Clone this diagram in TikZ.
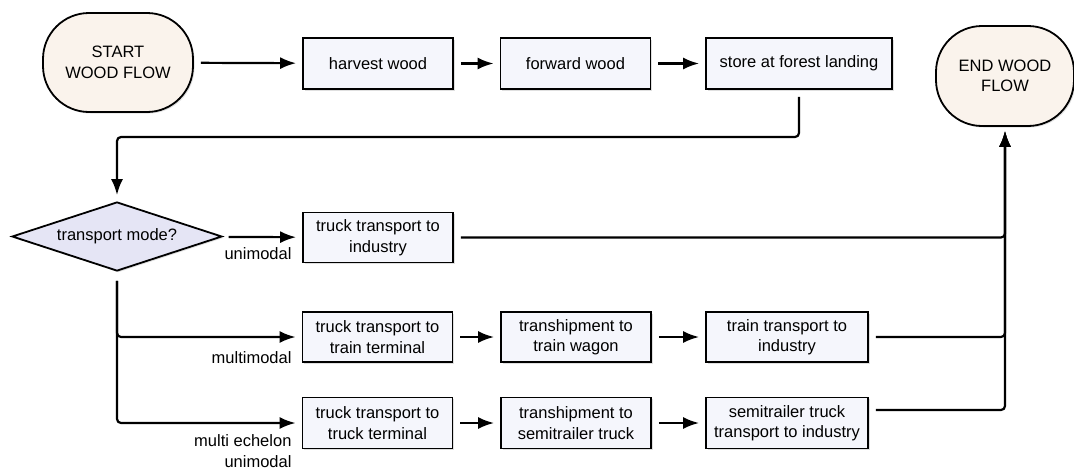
\documentclass[tikz,border=0pt]{standalone}
\usepackage{fontspec}
\setmainfont{Liberation Sans}
\usetikzlibrary{shapes.geometric,arrows.meta,shadows}
\definecolor{termfill}{RGB}{250,243,236}
\definecolor{boxfill}{RGB}{245,246,252}
\definecolor{decfill}{RGB}{229,229,245}

\begin{document}
\begin{tikzpicture}[x=1pt,y=-1pt]
                        \tikzstyle{every node}=[font=\fontsize{16.5}{20.5}\selectfont]
                        \tikzstyle{terminal}=[draw,line width=1.8pt,fill=termfill,rounded corners=46pt,minimum height=99pt,align=center,drop shadow={opacity=0.25,shadow xshift=1.5pt,shadow yshift=-1.5pt}]
                        \tikzstyle{stepbox}=[draw,line width=1.8pt,fill=boxfill,minimum width=150pt,minimum height=51pt,inner sep=0pt,align=center,drop shadow={opacity=0.25,shadow xshift=1.5pt,shadow yshift=-1.5pt}]
                        \tikzstyle{decision}=[draw,diamond,line width=1.8pt,fill=decfill,aspect=3,minimum width=210pt,minimum height=69pt,inner sep=0pt,drop shadow={opacity=0.25,shadow xshift=1.5pt,shadow yshift=-1.5pt}]
                        \tikzstyle{flow}=[line width=2.2pt,-{Latex[length=16pt,width=12pt]},shorten >=6pt,shorten <=7pt,rounded corners=4pt]
                        \tikzstyle{branch}=[anchor=east,align=right]
                        \useasboundingbox (0,0) rectangle (1074,471);

                        % top row
                        \node[terminal,minimum width=150pt] (start) at (118,62.5) {START\\WOOD FLOW};
                        \node[stepbox] (harvest) at (378,63.5) {harvest wood};
                        \node[stepbox] (forward) at (575.5,63.5) {forward wood};
                        \node[stepbox,minimum width=186pt] (store) at (799,63.5) {store at forest landing};
                        \node[terminal,minimum width=138pt,minimum height=100pt] (end) at (1005,76) {END WOOD\\FLOW};

                        \node[decision] (mode) at (117,236.5) {transport mode?};
                        \coordinate (split) at (117,137);

                        % transport chains
                        \node[stepbox,minimum height=50pt] (truck) at (378,237.5) {truck transport to\\industry};
                        \node[stepbox,minimum height=50pt] (truckA) at (377.5,337) {truck transport to\\train terminal};
                        \node[stepbox,minimum height=50pt] (tranA) at (576,337) {transhipment to\\train wagon};
                        \node[stepbox,minimum width=162pt,minimum height=50pt] (train) at (787,337) {train transport to\\industry};
                        \node[stepbox] (truckB) at (377.5,423) {truck transport to\\truck terminal};
                        \node[stepbox] (tranB) at (576,423) {transhipment to\\semitrailer truck};
                        \node[stepbox,minimum width=162pt] (semi) at (787,423) {semitrailer truck\\transport to industry};

                        \node[branch] (uni) at (295,254) {unimodal};
                        \node[branch] (multi) at (295,358) {multimodal};
                        \node[branch] (echelon) at (295,451) {multi echelon\\unimodal};

                        \draw[flow] (start) -- (harvest);
                        \draw[flow] (harvest) -- (forward);
                        \draw[flow] (forward) -- (store);
                        \draw[flow] (store.south) |- (split) -- (mode.north);

                        \draw[flow] (mode) -- (truck);
                        \draw[flow,shorten <=9pt] (mode.south) |- (truckA.west);
                        \draw[flow,shorten <=9pt] (mode.south) |- (truckB.west);
                        \draw[flow] (truckA) -- (tranA);
                        \draw[flow] (tranA) -- (train);
                        \draw[flow] (truckB) -- (tranB);
                        \draw[flow] (tranB) -- (semi);

                        \draw[flow,shorten >=4pt] ([yshift=13pt]semi.east) -| (end.south);
                        \draw[flow,shorten >=4pt] (train.east) -| (end.south);
                        \draw[flow,shorten >=4pt] (truck.east) -| (end.south);
                    \end{tikzpicture}
\end{document}
